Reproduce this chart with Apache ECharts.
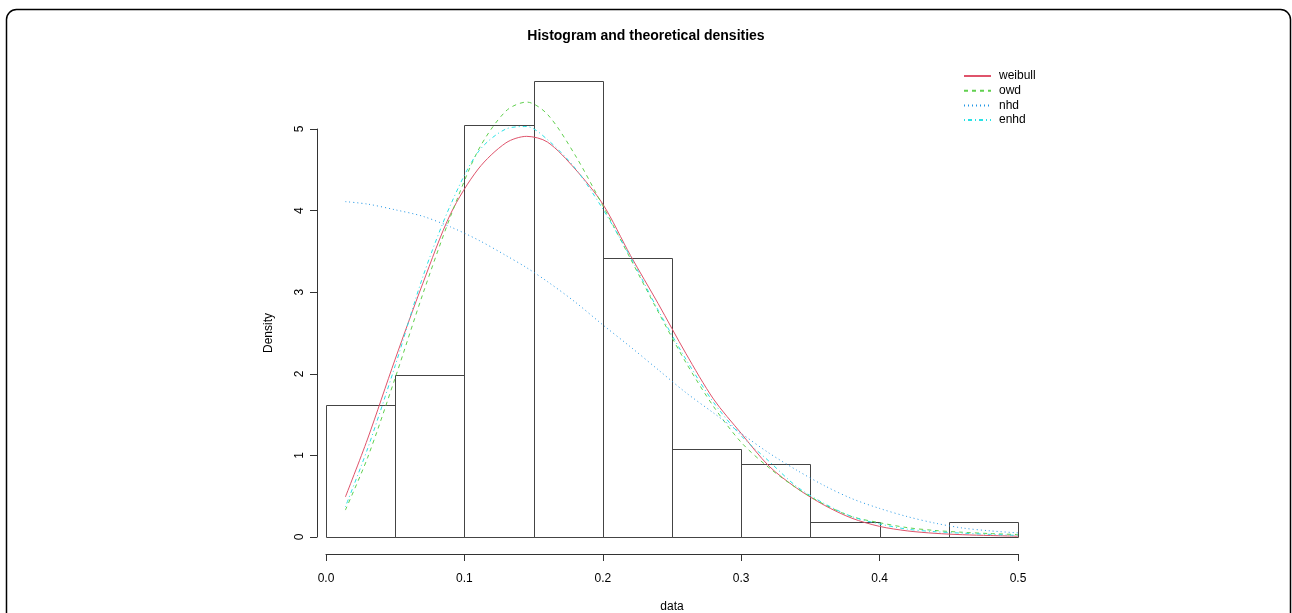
<!DOCTYPE html>
<html><head><meta charset="utf-8">
<script src="https://cdn.jsdelivr.net/npm/echarts@6/dist/echarts.min.js"></script>
<style>html,body{margin:0;padding:0;background:#fff}#c{width:1292px;height:613px}</style>
</head><body><div id="c"></div>
<script>
// Histogram bins (density scale)
const binStart = [0.00, 0.05, 0.10, 0.15, 0.20, 0.25, 0.30, 0.35, 0.40, 0.45];
const binEnd   = [0.05, 0.10, 0.15, 0.20, 0.25, 0.30, 0.35, 0.40, 0.45, 0.50];
const binDensity = [1.62, 1.98, 5.05, 5.59, 3.42, 1.08, 0.90, 0.18, 0.00, 0.18];

// Fitted density curves
const curveX  = [0.014, 0.03, 0.05, 0.07, 0.09, 0.11, 0.13, 0.145, 0.16, 0.18, 0.20, 0.22, 0.24, 0.26, 0.28, 0.30, 0.32, 0.34, 0.36, 0.38, 0.40, 0.42, 0.44, 0.46, 0.48, 0.50];
const weibull = [0.49, 1.20, 2.18, 3.11, 3.96, 4.51, 4.83, 4.91, 4.84, 4.51, 4.08, 3.45, 2.86, 2.25, 1.69, 1.27, 0.87, 0.60, 0.39, 0.23, 0.13, 0.075, 0.045, 0.028, 0.018, 0.01];
const owd     = [0.33, 0.97, 1.95, 2.98, 3.93, 4.74, 5.22, 5.33, 5.18, 4.68, 4.06, 3.41, 2.76, 2.14, 1.60, 1.16, 0.85, 0.60, 0.40, 0.25, 0.175, 0.115, 0.08, 0.058, 0.042, 0.03];
const nhd     = [4.11, 4.08, 4.01, 3.93, 3.80, 3.64, 3.45, 3.30, 3.13, 2.88, 2.60, 2.33, 2.05, 1.77, 1.52, 1.27, 1.03, 0.82, 0.63, 0.47, 0.35, 0.25, 0.17, 0.11, 0.075, 0.05];
const enhd    = [0.37, 1.08, 2.10, 3.19, 4.07, 4.72, 5.00, 5.03, 4.87, 4.52, 4.02, 3.43, 2.78, 2.18, 1.65, 1.24, 0.93, 0.62, 0.41, 0.25, 0.16, 0.096, 0.065, 0.047, 0.032, 0.02];

const seriesNames = ['weibull', 'owd', 'nhd', 'enhd'];
const seriesColors = ['#DF536B', '#61D04F', '#2297E6', '#28E2E5'];
const seriesDash = [[], [4, 4], [1, 3], [1, 3, 4, 3]];
const seriesValues = [weibull, owd, nhd, enhd];

const titleText = 'Histogram and theoretical densities';
const xName = 'data';
const yName = 'Density';

const FONT = 'Liberation Sans, Arial, Helvetica, sans-serif';
const chart = echarts.init(document.getElementById('c'));

const histData = binStart.map((s, i) => [s, binEnd[i], binDensity[i]]);

const lineSeries = seriesNames.map((n, k) => ({
  name: n,
  type: 'line',
  data: curveX.map((x, i) => [x, seriesValues[k][i]]),
  symbol: 'none',
  smooth: 0.3,
  clip: false,
  z: 5,
  lineStyle: { color: seriesColors[k], width: 1, type: seriesDash[k].length ? seriesDash[k] : 'solid' },
  itemStyle: { color: seriesColors[k] }
}));

chart.setOption({
  animation: false,
  backgroundColor: '#fff',
  title: {
    text: titleText, left: 'center', top: 24,
    textStyle: { fontFamily: FONT, fontSize: 14, fontWeight: 'bold', color: '#000' }
  },
  legend: {
    orient: 'vertical', left: 958, top: 65,
    itemWidth: 27, itemHeight: 14, itemGap: 2.7,
    data: seriesNames,
    itemStyle: { opacity: 0 },
    textStyle: { fontFamily: FONT, fontSize: 12, color: '#000', padding: [0, 0, 0, 3] }
  },
  grid: { left: 326, top: 129, width: 692, height: 408, containLabel: false, outerBoundsMode: 'none' },
  xAxis: {
    type: 'value', min: 0, max: 0.5, interval: 0.1,
    offset: 17,
    name: xName, nameLocation: 'middle', nameGap: 47,
    nameTextStyle: { fontFamily: FONT, fontSize: 12, color: '#000' },
    axisLine: { show: true, onZero: false, lineStyle: { color: '#333', width: 1 } },
    axisTick: { show: true, length: 7, lineStyle: { color: '#333' } },
    axisLabel: { fontFamily: FONT, fontSize: 12, color: '#000', margin: 19, formatter: v => v.toFixed(1) },
    splitLine: { show: false }
  },
  yAxis: {
    type: 'value', min: 0, max: 5, interval: 1,
    offset: 9,
    name: yName, nameLocation: 'middle', nameGap: 42, nameRotate: 90,
    nameTextStyle: { fontFamily: FONT, fontSize: 12, color: '#000' },
    axisLine: { show: true, onZero: false, lineStyle: { color: '#333', width: 1 } },
    axisTick: { show: true, length: 7, lineStyle: { color: '#333' } },
    axisLabel: { fontFamily: FONT, fontSize: 12, color: '#000', rotate: 90, margin: 11 },
    splitLine: { show: false }
  },
  graphic: [{
    type: 'rect', z: 100, silent: true,
    shape: { x: 6.5, y: 9.5, width: 1284, height: 700, r: 10 },
    style: { fill: 'none', stroke: '#000', lineWidth: 1.5 }
  }],
  series: [{
    type: 'custom',
    name: 'hist',
    data: histData,
    encode: { x: [0, 1], y: 2 },
    z: 2,
    renderItem: (params, api) => {
      const p0 = api.coord([api.value(0), 0]);
      const p1 = api.coord([api.value(1), api.value(2)]);
      const x0 = Math.round(p0[0]) + 0.5, x1 = Math.round(p1[0]) + 0.5;
      const yb = Math.round(p0[1]) + 0.5, yt = Math.round(p1[1]) + 0.5;
      return {
        type: 'rect',
        shape: { x: x0, y: yt, width: x1 - x0, height: yb - yt },
        style: { fill: 'none', stroke: '#444', lineWidth: 1 }
      };
    }
  }].concat(lineSeries)
});
</script>
</body></html>
